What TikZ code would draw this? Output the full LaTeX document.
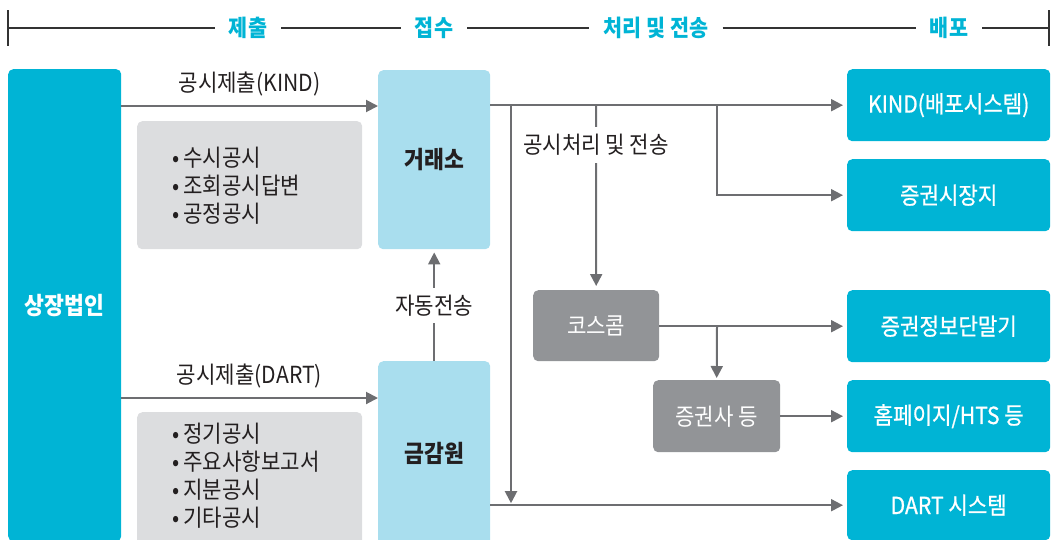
\documentclass[tikz,border=0pt]{standalone}
\usepackage{fontspec}
\setmainfont{Noto Sans CJK KR}[FakeStretch=0.9]
\newfontfamily\krmed{Noto Sans CJK KR}[FakeStretch=0.9, FakeBold=0.8]
\usetikzlibrary{arrows.meta,calc}
\definecolor{cy}{HTML}{00B4D5}
\definecolor{lb}{HTML}{A9DEEE}
\definecolor{gr}{HTML}{DCDDDF}
\definecolor{dg}{HTML}{929497}
\definecolor{ag}{HTML}{6D6E71}
\definecolor{txt}{HTML}{231F20}
\definecolor{hline}{HTML}{333333}
\begin{document}
\begin{tikzpicture}[x=1pt,y=-1pt,
  fnt/.style={font=\fontsize{23.5}{28}\selectfont},
  bfnt/.style={font=\fontsize{24}{28}\selectfont\bfseries},
  mfnt/.style={font=\fontsize{23.5}{28}\selectfont\krmed},
  cybox/.style={fill=cy, rounded corners=5pt, text=white, mfnt, inner sep=0pt, anchor=north west},
  lbbox/.style={fill=lb, rounded corners=5pt, text=txt, bfnt, inner sep=0pt, anchor=north west},
  gbox/.style={fill=gr, rounded corners=5pt, inner sep=0pt, anchor=north west},
  dgbox/.style={fill=dg, rounded corners=5pt, text=white, fnt, inner sep=0pt, anchor=north west},
  arr/.style={draw=ag, line width=2pt, -{Triangle[length=12pt,width=12pt]}},
  lbl/.style={fnt, text=txt, fill=white, inner xsep=2pt, inner ysep=7pt},
  bul/.style={font=\fontsize{23.5}{28}\selectfont, text=txt, align=left, anchor=west, inner sep=0pt},
  hd/.style={font=\fontsize{23}{26}\selectfont\bfseries, text=cy, inner xsep=14pt, inner ysep=0pt},
  hl/.style={draw=hline, line width=2.5pt},
  tk/.style={draw=hline, line width=1.5pt}]
\useasboundingbox (0,0) rectangle (1051,539);
\clip (0,0) rectangle (1051,539);

% header
\coordinate (tl) at (8,28);
\coordinate (tr) at (1049,28);
\coordinate (tlt) at (8,10);
\coordinate (tlb) at (8,46);
\coordinate (trt) at (1049,10);
\coordinate (trb) at (1049,46);
\node[hd] (h1) at (248,28) {제출};
\node[hd] (h2) at (434,28) {접수};
\node[hd] (h3) at (656,28) {처리 및 전송};
\node[hd] (h4) at (949,28) {배포};
\draw[hl] (tl) -- (h1.west);
\draw[hl] (h1.east) -- (h2.west);
\draw[hl] (h2.east) -- (h3.west);
\draw[hl] (h3.east) -- (h4.west);
\draw[hl] (h4.east) -- (tr);
\draw[tk] (tlt) -- (tlb);
\draw[tk] (trt) -- (trb);

% left column
\node[cybox, bfnt, minimum width=113pt, minimum height=472pt] (corp) at (8,69) {상장법인};
\node[lbbox, minimum width=112pt, minimum height=179pt] (kse) at (378,70) {거래소};
\node[lbbox, minimum width=112pt, minimum height=184pt] (fss) at (378,361) {금감원};

\node[gbox, minimum width=225pt, minimum height=128pt] (g1) at (137,121) {};
\node[bul] (g1t) at (172,186) {•\,수시공시\\•\,조회공시답변\\•\,공정공시};
\node[gbox, minimum width=225pt, minimum height=135pt] (g2) at (137,412) {};
\node[bul] (g2t) at (172,476) {•\,정기공시\\•\,주요사항보고서\\•\,지분공시\\•\,기타공시};

% right column
\node[cybox, minimum width=203pt, minimum height=72pt] (kind) at (847,69) {KIND(배포시스템)};
\node[cybox, minimum width=203pt, minimum height=72pt] (sm) at (847,159) {증권시장지};
\node[cybox, minimum width=203pt, minimum height=72pt] (term) at (847,290) {증권정보단말기};
\node[cybox, minimum width=203pt, minimum height=72pt] (home) at (847,380) {홈페이지/HTS 등};
\node[cybox, minimum width=203pt, minimum height=70pt] (dart) at (847,470) {DART 시스템};

% middle
\node[dgbox, minimum width=126pt, minimum height=71pt] (kos) at (533,290) {코스콤};
\node[dgbox, minimum width=127pt, minimum height=72pt] (sec) at (653,380) {증권사 등};

% submission arrows
\coordinate (k1) at (121,106);
\coordinate (d1) at (121,398);
\draw[arr] (k1) -- (kse.west |- k1) node[midway, above=9pt, fnt, text=txt, inner sep=0pt] (lk) {공시제출(KIND)};
\draw[arr] (d1) -- (fss.west |- d1) node[midway, above=9pt, fnt, text=txt, inner sep=0pt] (ld) {공시제출(DART)};

% automatic transfer
\draw[arr, shorten >=3pt] (fss.north) -- (kse.south);
\node[lbl] (auto) at ($(fss.north)!0.5!(kse.south)$) {자동전송};

% distribution
\coordinate (v1) at (511,105);
\coordinate (v2) at (596,105);
\coordinate (v3) at (717,105);
\coordinate (b1) at (717,326);
\draw[arr, shorten >=4pt] (kse.east |- kind.west) -- (kind.west);
\draw[arr, shorten >=2pt] (v1) -- (v1 |- dart.west);
\draw[arr, shorten >=4pt] (fss.east |- dart.west) -- (dart.west);
\draw[arr, shorten >=4pt] (v2) -- (kos.north);
\node[lbl] (proc) at (596,145) {공시처리 및 전송};
\draw[arr, shorten >=4pt] (v3) |- (sm.west);
\draw[arr, shorten >=4pt] (kos.east |- term.west) -- (term.west);
\draw[arr, shorten >=2pt] (b1) -- (sec.north);
\draw[arr, shorten >=4pt] (sec.east |- home.west) -- (home.west);
\end{tikzpicture}
\end{document}
